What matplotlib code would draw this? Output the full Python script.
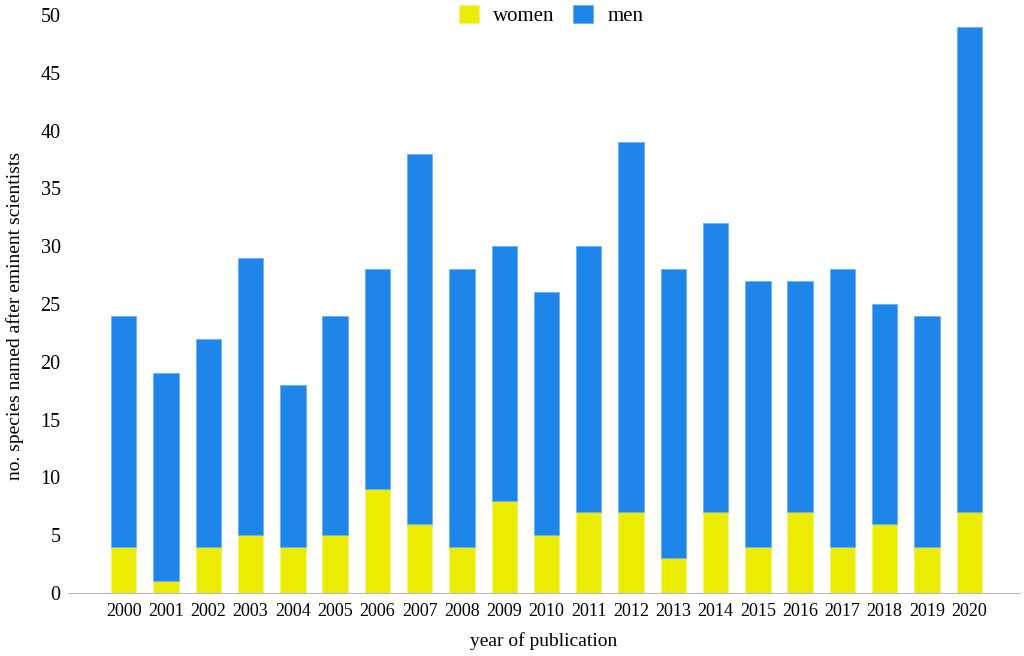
import matplotlib.pyplot as plt
import numpy as np

plt.rcParams['font.family'] = ['Liberation Serif', 'DejaVu Serif']

years = [str(y) for y in range(2000, 2021)]
totals = [24, 19, 22, 29, 18, 24, 28, 38, 28, 30, 26, 30, 39, 28, 32, 27, 27, 28, 25, 24, 49]
women = [4, 1, 4, 5, 4, 5, 9, 6, 4, 8, 5, 7, 7, 3, 7, 4, 7, 4, 6, 4, 7]
men = [t - w for t, w in zip(totals, women)]

fig = plt.figure(figsize=(10.24, 6.56), dpi=100)
ax = fig.add_axes([0.066, 0.096, 0.93, 0.881])

x = np.arange(len(years))
ax.bar(x, women, width=0.6, color='#ECEC00', edgecolor='#F4F47A', linewidth=0.6, label='women')
ax.bar(x, men, width=0.6, bottom=women, color='#1E86EA', edgecolor='#6CB2F4', linewidth=0.6, label='men')

ax.set_xlim(-1.33, 21.2)
ax.set_ylim(0, 50)
ax.set_yticks(range(0, 51, 5))
ax.set_xticks(x)
ax.set_xticklabels(years, fontsize=13)
ax.tick_params(axis='y', labelsize=14.5, length=0, pad=5)
ax.tick_params(axis='x', length=0, pad=7)
for s in ['top', 'right', 'left']:
    ax.spines[s].set_visible(False)
ax.spines['bottom'].set_color('#BBBBBB')
ax.set_xlabel('year of publication', fontsize=14, labelpad=9)
ax.set_ylabel('no. species named after eminent scientists', fontsize=14)
ax.yaxis.set_label_coords(-0.046, 0.48)

ax.legend(loc='upper center', bbox_to_anchor=(0.508, 1.05), ncol=2, frameon=False,
          fontsize=15, handlelength=0.95, handleheight=0.95, handletextpad=0.7,
          columnspacing=0.9)

fig.savefig('out.png')
